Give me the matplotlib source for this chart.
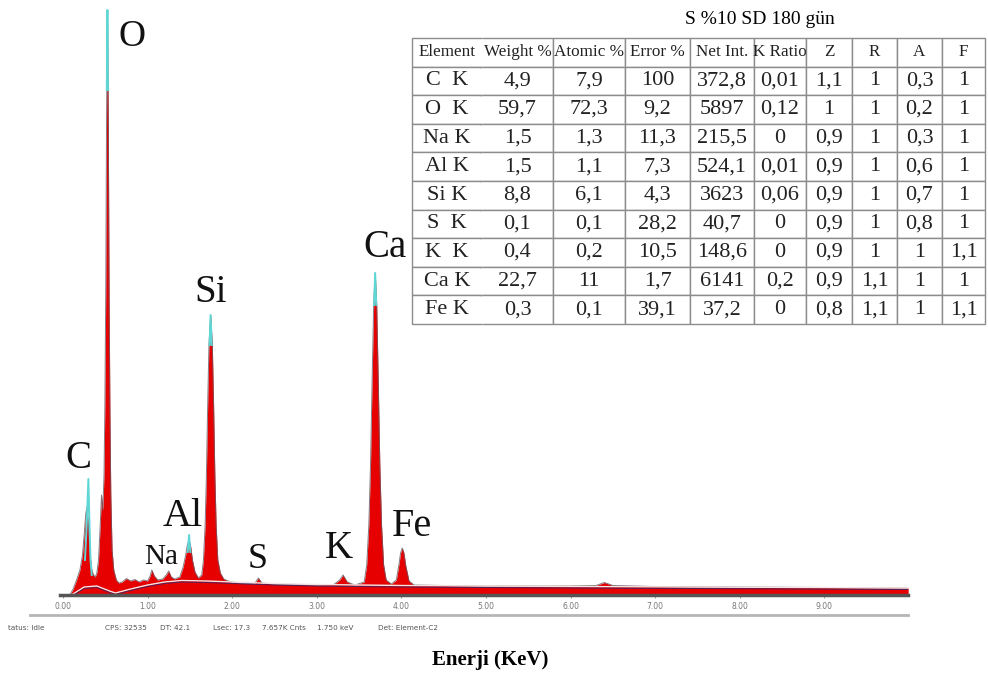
import numpy as np
import matplotlib.pyplot as plt
from matplotlib.lines import Line2D

# spectrum (keV, counts)
energy = [0.00, 0.08, 0.12, 0.16, 0.20, 0.23, 0.25, 0.27, 0.285, 0.30, 0.32, 0.34, 0.36, 0.38,
          0.40, 0.42, 0.44, 0.455, 0.47, 0.485, 0.495, 0.505, 0.515, 0.525, 0.535, 0.545, 0.555,
          0.565, 0.58, 0.60, 0.63, 0.66, 0.70, 0.75, 0.80, 0.85, 0.90, 0.95, 1.00, 1.03, 1.05,
          1.08, 1.12, 1.18, 1.22, 1.25, 1.28, 1.32, 1.38, 1.42, 1.45, 1.47, 1.49, 1.51, 1.53,
          1.56, 1.60, 1.64, 1.66, 1.68, 1.695, 1.71, 1.725, 1.745, 1.765, 1.78, 1.795, 1.81,
          1.83, 1.86, 1.90, 1.95, 2.00, 2.10, 2.20, 2.27, 2.31, 2.35, 2.50, 2.80, 3.00, 3.20,
          3.27, 3.31, 3.36, 3.45, 3.56, 3.59, 3.615, 3.635, 3.655, 3.672, 3.69, 3.708, 3.725,
          3.745, 3.765, 3.79, 3.82, 3.88, 3.94, 3.97, 3.99, 4.01, 4.03, 4.05, 4.09, 4.15, 4.50,
          5.00, 5.50, 6.00, 6.30, 6.40, 6.50, 7.00, 8.00, 9.00, 9.99]
counts = [0, 0, 60, 150, 250, 400, 600, 820, 880, 700, 400, 250, 200, 180,
          220, 350, 700, 1000, 850, 1200, 1900, 3000, 4800, 5850, 4800, 3000, 1800,
          1000, 450, 250, 150, 120, 130, 165, 140, 155, 130, 150, 140, 190, 250,
          190, 150, 160, 200, 240, 180, 160, 180, 280, 400, 500, 550, 480, 350,
          230, 170, 200, 350, 700, 1200, 1900, 2500, 2800, 2500, 1900, 1200, 700,
          350, 220, 160, 140, 130, 120, 115, 120, 170, 120, 110, 105, 100, 105,
          150, 200, 130, 100, 130, 300, 700, 1300, 2200, 2900, 3220, 2900, 2200,
          1300, 700, 300, 150, 110, 150, 300, 420, 470, 420, 300, 140, 100, 95,
          90, 90, 90, 95, 125, 95, 85, 80, 75, 70]

# background fit lines
bkg_e = [0.10, 0.25, 0.40, 0.55, 0.62, 0.80, 1.00, 1.20, 1.40, 1.70, 2.00, 2.50, 3.00, 4.00,
         5.00, 6.00, 8.00, 9.99]
bkg_c = [0, 80, 90, 40, 20, 60, 100, 130, 145, 140, 130, 115, 105, 95, 90, 85, 78, 70]

# cyan overlay at the peak tips
tips = {
    'C': ([0.26, 0.28, 0.30, 0.31, 0.325, 0.34], [350, 700, 1160, 800, 350, 200]),
    'O': ([0.518, 0.525, 0.532], [5050, 5850, 5050]),
    'Al': ([1.475, 1.49, 1.505], [430, 600, 430]),
    'Si': ([1.732, 1.745, 1.758], [2500, 2800, 2500]),
    'Ca': ([3.677, 3.69, 3.703], [2900, 3220, 2900]),
}

peak_names = ['O', 'Si', 'Ca', 'C', 'Al', 'Na', 'S', 'K', 'Fe']
peak_x = [0.816, 1.749, 3.806, 0.177, 1.418, 1.158, 2.305, 3.262, 4.125]
peak_y = [5580, 3020, 3470, 1370, 780, 380, 360, 470, 680]
peak_size = [27, 28, 28, 28, 29, 21, 26, 28, 29]

tick_vals = [0, 1, 2, 3, 4, 5, 6, 7, 8, 9]
tick_labels = ['0.00', '1.00', '2.00', '3.00', '4.00', '5.00', '6.00', '7.00', '8.00', '9.00']

status = ['tatus: Idle', 'CPS: 32535', 'DT: 42.1', 'Lsec: 17.3', '7.657K Cnts', '1.750 keV',
          'Det: Element-C2']
status_x = [8, 105, 160, 213, 262, 317, 378]

col_labels = ['Element', 'Weight %', 'Atomic %', 'Error %', 'Net Int.', 'K Ratio', 'Z', 'R', 'A', 'F']
elements = ['C  K', 'O  K', 'Na K', 'Al K', 'Si K', 'S  K', 'K  K', 'Ca K', 'Fe K']
weight = ['4,9', '59,7', '1,5', '1,5', '8,8', '0,1', '0,4', '22,7', '0,3']
atomic = ['7,9', '72,3', '1,3', '1,1', '6,1', '0,1', '0,2', '11', '0,1']
error = ['100', '9,2', '11,3', '7,3', '4,3', '28,2', '10,5', '1,7', '39,1']
net_int = ['372,8', '5897', '215,5', '524,1', '3623', '40,7', '148,6', '6141', '37,2']
k_ratio = ['0,01', '0,12', '0', '0,01', '0,06', '0', '0', '0,2', '0']
z_col = ['1,1', '1', '0,9', '0,9', '0,9', '0,9', '0,9', '0,9', '0,8']
r_col = ['1', '1', '1', '1', '1', '1', '1', '1,1', '1,1']
a_col = ['0,3', '0,2', '0,3', '0,6', '0,7', '0,8', '1', '1', '1']
f_col = ['1', '1', '1', '1', '1', '1', '1,1', '1', '1,1']

W, H = 988, 675
fig = plt.figure(figsize=(W / 100, H / 100), dpi=100)
serif = ['Liberation Serif', 'DejaVu Serif']

# spectrum axes: x=0 keV at 63 px, 84.6 px/keV, baseline at y=595 px
ax = fig.add_axes([60 / W, (H - 595) / H, 848 / W, 590 / H])
ax.set_xlim(-3 / 84.6, 845 / 84.6)
ax.set_ylim(0, 5900)
ax.fill_between(energy, counts, color='#e60000', lw=0)
ax.plot(energy, counts, color='#6a5a66', lw=0.7, alpha=0.8)
ax.plot(bkg_e, bkg_c, color='#f4e4e4', lw=1.0)
ax.plot(bkg_e, np.array(bkg_c) - 15, color='#2a2a70', lw=0.7, alpha=0.8)
for k, (te, tc) in tips.items():
    ax.plot(te, tc, color='#5fd6d6', lw=1.4)
for name, x, y, s in zip(peak_names, peak_x, peak_y, peak_size):
    ax.text(x, y, name, fontsize=s, family=serif, ha='center', va='center', color='#111111')

for sp in ['top', 'right', 'left']:
    ax.spines[sp].set_visible(False)
ax.spines['bottom'].set_color('#555555')
ax.spines['bottom'].set_linewidth(2.5)
ax.set_yticks([])
ax.set_xticks(tick_vals)
ax.set_xticklabels(tick_labels, fontsize=5.5, color='#777777')
ax.tick_params(axis='x', length=2, color='#999999', pad=3)

# status bar under the axis
fig.add_artist(Line2D([30 / W, 908 / W], [(H - 615) / H] * 2, color='#b5b5b5', lw=2))
for t, x in zip(status, status_x):
    fig.text(x / W, (H - 628) / H, t, fontsize=5.2, color='#555555', va='center')
fig.text(490 / W, (H - 660) / H, 'Enerji (KeV)', fontsize=15, fontweight='bold',
         family=serif, ha='center', va='center')

# results table
fig.text(760 / W, (H - 20) / H, 'S %10 SD 180 gün', fontsize=14, family=serif,
         ha='center', va='center')
rows = list(zip(elements, weight, atomic, error, net_int, k_ratio, z_col, r_col, a_col, f_col))
widths = [70, 71, 72, 65, 64, 52, 46, 45, 45, 43]
tax = fig.add_axes([412 / W, (H - 324) / H, 573 / W, 286 / H])
tax.axis('off')
tbl = tax.table(cellText=rows, colLabels=col_labels, colWidths=[w / sum(widths) for w in widths],
                cellLoc='center', bbox=[0, 0, 1, 1])
tbl.auto_set_font_size(False)
for (r, c), cell in tbl.get_celld().items():
    cell.set_edgecolor('#8c8c8c')
    cell.set_linewidth(1.0)
    cell.PAD = 0.02
    txt = cell.get_text()
    txt.set_family(serif)
    txt.set_color('#222222')
    txt.set_fontsize(12.3 if r == 0 else 16)
    if c == 0:
        cell.visible_edges = 'BTL'
    elif c == 1:
        cell.visible_edges = 'BTR'

fig.savefig('out.png', dpi=100)
